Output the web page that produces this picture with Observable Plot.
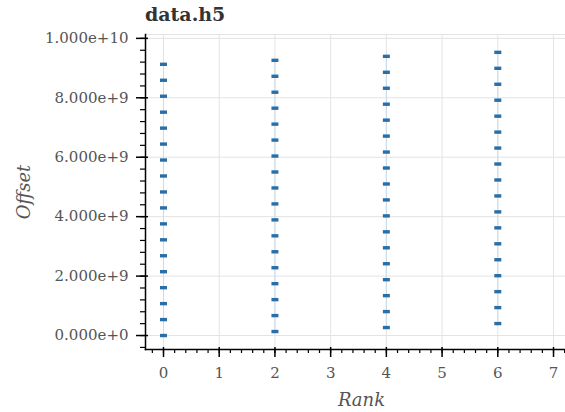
<!DOCTYPE html>
<html><head><meta charset="utf-8">
<script src="https://cdn.jsdelivr.net/npm/d3@7"></script>
<script src="https://cdn.jsdelivr.net/npm/@observablehq/plot@0.6"></script>
<style>
body{margin:0;background:#fff;}
#title{height:30px;line-height:30px;padding-top:3px;box-sizing:border-box;padding-left:145px;font:bold 19px "DejaVu Serif";color:#333;}
#chart svg{display:block;}
</style></head><body>
<div id="title"></div>
<div id="chart"></div>
<script>
const title = "data.h5";
const xLabel = "Rank";
const yLabel = "Offset";

const ranks = [0, 2, 4, 6];
const offsetsRank0 = [0, 536870912, 1073741824, 1610612736, 2147483648, 2684354560, 3221225472, 3758096384, 4294967296, 4831838208, 5368709120, 5905580032, 6442450944, 6979321856, 7516192768, 8053063680, 8589934592, 9126805504];
const offsetsRank2 = [134217728, 671088640, 1207959552, 1744830464, 2281701376, 2818572288, 3355443200, 3892314112, 4429185024, 4966055936, 5502926848, 6039797760, 6576668672, 7113539584, 7650410496, 8187281408, 8724152320, 9261023232];
const offsetsRank4 = [268435456, 805306368, 1342177280, 1879048192, 2415919104, 2952790016, 3489660928, 4026531840, 4563402752, 5100273664, 5637144576, 6174015488, 6710886400, 7247757312, 7784628224, 8321499136, 8858370048, 9395240960];
const offsetsRank6 = [402653184, 939524096, 1476395008, 2013265920, 2550136832, 3087007744, 3623878656, 4160749568, 4697620480, 5234491392, 5771362304, 6308233216, 6845104128, 7381975040, 7918845952, 8455716864, 8992587776, 9529458688];

const xTickValues = [0, 1, 2, 3, 4, 5, 6, 7];
const xTickLabels = ["0", "1", "2", "3", "4", "5", "6", "7"];
const yTickValues = [0, 2e9, 4e9, 6e9, 8e9, 1e10];
const yTickLabels = ["0.000e+0", "2.000e+9", "4.000e+9", "6.000e+9", "8.000e+9", "1.000e+10"];

const offsetsByRank = [offsetsRank0, offsetsRank2, offsetsRank4, offsetsRank6];
const points = ranks.flatMap((r, i) => offsetsByRank[i].map(o => ({rank: r, offset: o})));
const columns = ranks.map((r, i) => ({rank: r, lo: d3.min(offsetsByRank[i]), hi: d3.max(offsetsByRank[i])}));

const xMinor = d3.range(-0.2, 7.25, 0.2).map(v => Math.round(v * 10) / 10);
const yMinor = d3.range(-4e8, 1.01e10, 4e8);

const dash = {draw(ctx) { ctx.rect(-3.5, -1.7, 7, 3.4); }};

document.getElementById("title").textContent = title;

const chart = Plot.plot({
  width: 565, height: 382,
  marginLeft: 145, marginRight: 0, marginTop: 4, marginBottom: 63,
  style: {fontFamily: "DejaVu Serif", fontSize: "15px", color: "#555", background: "#fff"},
  x: {domain: [-0.323, 7.215]},
  y: {domain: [-0.47e9, 1.013e10]},
  marks: [
    Plot.gridX(xTickValues, {stroke: "#e3e3e3", strokeOpacity: 1}),
    Plot.gridY(yTickValues, {stroke: "#e3e3e3", strokeOpacity: 1}),
    Plot.frame({anchor: "top", stroke: "#e3e3e3"}),
    Plot.ruleX(columns, {x: "rank", y1: "lo", y2: "hi", stroke: "#c6dcef", strokeWidth: 1}),
    Plot.dot(points, {x: "rank", y: "offset", symbol: dash, r: 3, fill: "#2b6ea5", stroke: "none"}),
    Plot.axisY({ticks: yMinor, tickSize: 5, text: null, label: null, stroke: "#000", strokeWidth: 1.2}),
    Plot.axisY({ticks: yTickValues, tickSize: 12, dx: 3, text: null, label: null, stroke: "#000", strokeWidth: 1.5}),
    Plot.axisY({ticks: yTickValues, tickSize: 0, tickPadding: 17, label: null, fill: "#555", fontSize: 15,
      tickFormat: d => yTickLabels[yTickValues.indexOf(d)]}),
    Plot.axisX({ticks: xMinor, tickSize: 4, text: null, label: null, stroke: "#000", strokeWidth: 1.2}),
    Plot.axisX({ticks: xTickValues, tickSize: 10, dy: -2, text: null, label: null, stroke: "#000", strokeWidth: 1.5}),
    Plot.axisX({ticks: xTickValues, tickSize: 0, tickPadding: 18, label: null, fill: "#555", fontSize: 15,
      tickFormat: d => xTickLabels[xTickValues.indexOf(d)]}),
    Plot.frame({anchor: "left", stroke: "#000", strokeWidth: 1.5}),
    Plot.frame({anchor: "bottom", stroke: "#000", strokeWidth: 1.5}),
    Plot.text([yLabel], {text: d => d, frameAnchor: "left", textAnchor: "middle", dx: -121, rotate: -90, fontStyle: "italic", fontSize: 18, fill: "#555"}),
    Plot.text([xLabel], {text: d => d, frameAnchor: "bottom", textAnchor: "middle", dx: 6, dy: 56, fontStyle: "italic", fontSize: 18, fill: "#555"})
  ]
});
document.getElementById("chart").appendChild(chart);
</script>
</body></html>
